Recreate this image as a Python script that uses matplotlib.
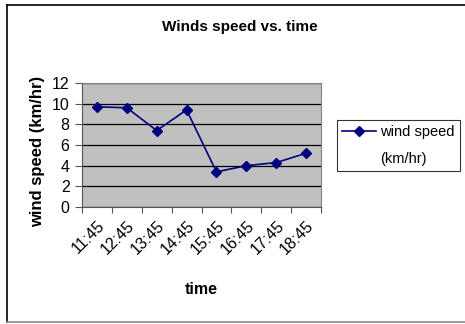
import matplotlib.pyplot as plt
from matplotlib.lines import Line2D

times = ["11:45", "12:45", "13:45", "14:45", "15:45", "16:45", "17:45", "18:45"]
speed = [9.7, 9.6, 7.4, 9.4, 3.4, 4.0, 4.3, 5.2]
yticks = [0, 2, 4, 6, 8, 10, 12]

plt.rcParams['font.family'] = ['Liberation Sans', 'DejaVu Sans']

W, H = 465, 324
fig = plt.figure(figsize=(W / 100, H / 100), dpi=100)

# outer chart frame
fig.add_artist(Line2D([7 / W, 7 / W], [1 - 5 / H, 1 - 322 / H], color='black', lw=1.2))
fig.add_artist(Line2D([7 / W, 1], [1 - 5 / H, 1 - 5 / H], color='black', lw=1.2))
fig.add_artist(Line2D([7 / W, 1], [1 - 322 / H, 1 - 322 / H], color='#888888', lw=1.2))

# plot area in pixels: x 82..321, y 83..207
ax = fig.add_axes([82 / W, 1 - 207 / H, (321 - 82) / W, (207 - 83) / H])
ax.set_facecolor('#c0c0c0')

x = list(range(len(times)))
line, = ax.plot(x, speed, color='#000080', lw=1.2, marker='D', markersize=5.5,
                markerfacecolor='#000080', markeredgecolor='#000080')

ax.set_xlim(-0.5, len(times) - 0.5)
ax.set_ylim(0, 12)
ax.set_yticks(yticks)
ax.set_yticklabels([str(v) for v in yticks], fontsize=11.5)
ax.yaxis.grid(True, color='black', lw=0.9)
ax.set_axisbelow(True)

ax.set_xticks([i - 0.5 for i in range(len(times) + 1)], minor=False)
ax.set_xticklabels([])
ax.set_xticks(x, minor=True)
ax.set_xticklabels(times, minor=True, rotation=45, ha='right', va='top',
                   rotation_mode='anchor', fontsize=11.5)
ax.tick_params(axis='x', which='minor', length=0, pad=8)
ax.tick_params(axis='x', which='major', length=4, direction='out', color='#555555')
ax.tick_params(axis='y', length=5, direction='out', color='#555555', pad=4)

for side in ['top', 'right']:
    ax.spines[side].set_color('#808080')
for side in ['left', 'bottom']:
    ax.spines[side].set_color('#555555')

fig.text(240 / W, 1 - 27 / H, "Winds speed vs. time", ha='center', va='center',
         fontsize=11, fontweight='bold')
fig.text(38 / W, 1 - 151 / H, "wind speed (km/hr)", ha='center', va='center',
         rotation=90, fontsize=12, fontweight='bold')
fig.text(201 / W, 1 - 289 / H, "time", ha='center', va='center',
         fontsize=11.5, fontweight='bold')

# legend label wraps onto a second row; the marker sits on the first one
blank = Line2D([], [], color='none')
leg = fig.legend([line, blank], ["wind speed", "(km/hr)"], loc='upper left',
                 bbox_to_anchor=(337 / W, 1 - 120 / H), frameon=True,
                 fancybox=False, edgecolor='black', fontsize=10.5,
                 handlelength=2.3, borderpad=0.35, handletextpad=0.3,
                 labelspacing=0.9, borderaxespad=0)
leg.get_frame().set_linewidth(0.8)

fig.savefig("out.png", dpi=100)
